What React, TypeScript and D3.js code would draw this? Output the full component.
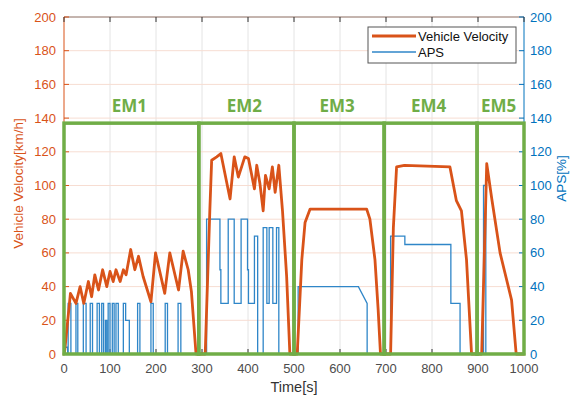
import * as d3 from 'd3';

// vehicle velocity (km/h) vs time (s)
const velT = [0, 2, 14, 26, 35, 43, 53, 60, 67, 75, 84, 93, 100, 107, 113, 122, 129, 135, 145, 154, 162, 172, 189, 199, 219, 230, 249, 259, 270, 277, 287, 307, 310, 317, 321, 332, 341, 361, 370, 379, 393, 401, 414, 419, 426, 433, 438, 446, 453, 459, 467, 475, 484, 491, 507, 517, 524, 535, 658, 665, 676, 683, 688, 710, 716, 723, 740, 839, 853, 864, 875, 886, 908, 919, 930, 948, 973, 983, 1000];
const velV = [0, 3, 36, 30, 40, 30, 43, 34, 47, 38, 50, 40, 49, 43, 50, 43, 50, 47, 62, 50, 58, 46, 31, 60, 36, 60, 38, 61, 50, 37, 0, 0, 26, 85, 115, 117, 119, 92, 117, 105, 117, 116, 98, 112, 101, 85, 106, 98, 111, 96, 112, 85, 46, 0, 0, 56, 78, 86, 86, 80, 56, 26, 0, 0, 75, 111, 112, 111, 91, 85, 56, 0, 0, 113, 92, 60, 32, 0, 0];

// APS (%) polyline vertices
const apsT = [0, 2, 2, 8, 8, 9, 9, 15, 15, 26, 26, 30, 30, 42, 42, 48, 48, 57, 57, 62, 62, 72, 72, 77, 77, 82, 82, 86, 86, 90, 90, 93, 93, 96, 96, 100, 100, 105, 105, 109, 109, 113, 113, 118, 118, 129, 129, 134, 134, 142, 142, 160, 160, 165, 165, 189, 189, 194, 194, 220, 220, 225, 225, 248, 248, 254, 254, 310, 310, 339, 339, 341, 341, 357, 357, 370, 370, 385, 385, 399, 399, 401, 401, 414, 414, 421, 421, 433, 433, 441, 441, 446, 446, 454, 454, 462, 462, 467, 467, 509, 509, 640, 659, 659, 710, 710, 741, 741, 841, 841, 861, 861, 912, 912, 917, 917, 1000];
const apsV = [0, 0, 4, 4, 0, 0, 30, 30, 0, 0, 30, 30, 0, 0, 30, 30, 0, 0, 30, 30, 0, 0, 30, 30, 0, 0, 30, 30, 0, 0, 20, 20, 0, 0, 30, 30, 0, 0, 30, 30, 0, 0, 30, 30, 0, 0, 30, 30, 20, 20, 0, 0, 30, 30, 0, 0, 30, 30, 0, 0, 30, 30, 0, 0, 30, 30, 0, 0, 80, 80, 50, 50, 30, 30, 80, 80, 30, 30, 80, 80, 50, 50, 30, 30, 70, 70, 0, 0, 75, 75, 30, 30, 75, 75, 30, 30, 75, 75, 0, 0, 40, 40, 30, 0, 0, 70, 70, 65, 65, 30, 30, 0, 0, 100, 100, 0, 0];

// energy-mode segments
const emBounds = [0, 293, 500, 696, 898, 1000];
const emLabels = ['EM1', 'EM2', 'EM3', 'EM4', 'EM5'];
const emTop = 137;

const xTicks = [0, 100, 200, 300, 400, 500, 600, 700, 800, 900, 1000];
const yTicks = [0, 20, 40, 60, 80, 100, 120, 140, 160, 180, 200];

const ORANGE = '#D95319';
const BLUE = '#0072BD';
const LINE_BLUE = '#2f86c8';
const GREEN = '#70AD47';
const FONT = '"Liberation Sans", Arial, sans-serif';

export default function App() {
  const width = 578;
  const height = 398;
  const x = d3.scaleLinear().domain([0, 1000]).range([64, 524]);
  const yL = d3.scaleLinear().domain([0, 200]).range([354, 17]);
  const yR = d3.scaleLinear().domain([0, 200]).range([354, 17]);

  const vel = velT.map((t, i) => [t, velV[i]] as [number, number]);
  const aps = apsT.map((t, i) => [t, apsV[i]] as [number, number]);
  const velLine = d3.line<[number, number]>().x(d => x(d[0])).y(d => yL(d[1]));
  const apsLine = d3.line<[number, number]>().x(d => x(d[0])).y(d => yR(d[1]));

  const [x0, x1] = x.range();
  const [y0, y1] = yL.range();

  return (
    <div style={{ position: 'fixed', left: 0, top: 0 }}>
      <svg width={width} height={height} style={{ display: 'block', background: '#fff' }}>
        {/* grid */}
        {xTicks.slice(1, -1).map(t => (
          <line key={'gx' + t} x1={x(t)} x2={x(t)} y1={y1} y2={y0} stroke="#e4e4e4" strokeWidth={1} />
        ))}
        {yTicks.slice(1, -1).map(v => (
          <line key={'gy' + v} x1={x0} x2={x1} y1={yL(v)} y2={yL(v)} stroke="#f7ddd2" strokeWidth={1} />
        ))}

        {/* axes frame */}
        <line x1={x0} x2={x1} y1={y1} y2={y1} stroke="#8a6a5e" strokeWidth={1} />
        <line x1={x0} x2={x1} y1={y0} y2={y0} stroke="#555" strokeWidth={1} />
        <line x1={x0} x2={x0} y1={y1} y2={y0} stroke={ORANGE} strokeWidth={1} />
        <line x1={x1} x2={x1} y1={y1} y2={y0} stroke={BLUE} strokeWidth={1} />

        {/* ticks */}
        {yTicks.map(v => (
          <g key={'ty' + v}>
            <line x1={x0} x2={x0 + 5} y1={yL(v)} y2={yL(v)} stroke={ORANGE} />
            <line x1={x1 - 5} x2={x1} y1={yR(v)} y2={yR(v)} stroke={BLUE} />
            <text x={56} y={yL(v) + 4.5} textAnchor="end" fontSize={13} fill={ORANGE} fontFamily={FONT}>{v}</text>
            <text x={530} y={yR(v) + 4.5} textAnchor="start" fontSize={13} fill={BLUE} fontFamily={FONT}>{v}</text>
          </g>
        ))}
        {xTicks.map(t => (
          <g key={'tx' + t}>
            <line x1={x(t)} x2={x(t)} y1={y0} y2={y0 - 5} stroke="#333" />
            <line x1={x(t)} x2={x(t)} y1={y1} y2={y1 + 5} stroke="#333" />
            <text x={x(t)} y={373} textAnchor="middle" fontSize={13} fill="#4d4d4d" fontFamily={FONT}>{t}</text>
          </g>
        ))}

        {/* axis labels */}
        <text x={(x0 + x1) / 2} y={392} textAnchor="middle" fontSize={14.5} fill="#333" fontFamily={FONT}>Time[s]</text>
        <text transform={`translate(23,${(y0 + y1) / 2 - 2}) rotate(-90)`} textAnchor="middle" fontSize={13.5} fill={ORANGE} fontFamily={FONT}>Vehicle Velocity[km/h]</text>
        <text transform={`translate(566,${(y0 + y1) / 2 - 7}) rotate(-90)`} textAnchor="middle" fontSize={13.5} fill={BLUE} fontFamily={FONT}>APS[%]</text>

        {/* series */}
        <path d={apsLine(aps) ?? ''} fill="none" stroke={LINE_BLUE} strokeWidth={1.3} />
        <path d={velLine(vel) ?? ''} fill="none" stroke={ORANGE} strokeWidth={2.8} strokeLinejoin="round" strokeLinecap="round" />

        {/* EM boxes */}
        {emLabels.map((lab, i) => {
          const a = x(emBounds[i]);
          const b = x(emBounds[i + 1]);
          return (
            <g key={lab}>
              <rect x={a} y={yL(emTop)} width={b - a} height={yL(0) - yL(emTop)} fill="none" stroke={GREEN} strokeWidth={3.5} />
              <text x={(a + b) / 2 - 2} y={112} textAnchor="middle" fontSize={17} fontWeight="bold" fill={GREEN} fontFamily='"Open Sans", "Noto Sans", sans-serif'>{lab}</text>
            </g>
          );
        })}

        {/* legend */}
        <g>
          <rect x={368} y={27} width={148} height={36} fill="#fff" stroke="#555" strokeWidth={1} />
          <line x1={372} x2={416} y1={36} y2={36} stroke={ORANGE} strokeWidth={2.8} />
          <text x={418} y={40.5} fontSize={13} fill="#111" fontFamily={FONT}>Vehicle Velocity</text>
          <line x1={372} x2={416} y1={52} y2={52} stroke={LINE_BLUE} strokeWidth={1.3} />
          <text x={418} y={56.5} fontSize={13} fill="#111" fontFamily={FONT}>APS</text>
        </g>
      </svg>
    </div>
  );
}
